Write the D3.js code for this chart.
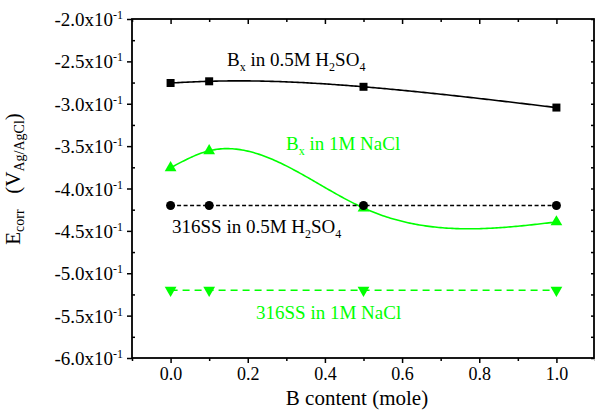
<!DOCTYPE html>
<html>
<head>
<meta charset="utf-8">
<script src="https://cdn.jsdelivr.net/npm/d3@7"></script>
<style>
  body { margin: 0; background: #fff; }
</style>
</head>
<body>
<div id="chart"></div>
<script>
// Data
const bContent = [0, 0.1, 0.5, 1.0];
const bxH2SO4 = [-0.2755, -0.2735, -0.280, -0.3045];
const bxNaCl = [-0.3755, -0.3555, -0.423, -0.4395];
const ss316H2SO4 = [-0.42, -0.42, -0.42, -0.42];
const ss316NaCl = [-0.52, -0.52, -0.52, -0.52];

const xMajorTicks = [0, 0.2, 0.4, 0.6, 0.8, 1.0];
const xMinorTicks = [-0.1, 0.1, 0.3, 0.5, 0.7, 0.9, 1.1];
const yMajorTicks = [-0.2, -0.25, -0.3, -0.35, -0.4, -0.45, -0.5, -0.55, -0.6];
const yMinorTicks = [-0.225, -0.275, -0.325, -0.375, -0.425, -0.475, -0.525, -0.575];

const FONT = "'Liberation Serif', 'Times New Roman', 'DejaVu Serif', serif";
const width = 595, height = 411;
const plot = { left: 132, right: 595, top: 19, bottom: 358 };

const svg = d3.select("#chart").append("svg")
    .attr("width", width)
    .attr("height", height)
    .style("font-family", FONT);

const x = d3.scaleLinear().domain([-0.1, 1.1]).range([plot.left, plot.right]);
const y = d3.scaleLinear().domain([-0.6, -0.2]).range([plot.bottom, plot.top]);

// Axes: bottom / left ticks outward, top / right ticks inward
function styleAxis(g) {
    g.attr("font-family", null);
    g.select(".domain").remove();
    g.selectAll("line").attr("stroke", "#000").attr("stroke-width", 1.5);
}

svg.append("g")
    .attr("transform", `translate(0,${plot.bottom})`)
    .call(d3.axisBottom(x).tickValues(xMajorTicks).tickSize(5).tickFormat(d3.format(".1f")))
    .call(styleAxis)
    .call(g => g.selectAll("text").attr("dy", null).attr("y", 22)
        .style("font-family", FONT).style("font-size", "18px").attr("fill", "#000"));

svg.append("g")
    .attr("transform", `translate(0,${plot.bottom})`)
    .call(d3.axisBottom(x).tickValues(xMinorTicks).tickSize(3).tickFormat(""))
    .call(styleAxis);

svg.append("g")
    .attr("transform", `translate(0,${plot.top})`)
    .call(d3.axisBottom(x).tickValues(xMajorTicks).tickSize(5).tickFormat(""))
    .call(styleAxis);

svg.append("g")
    .attr("transform", `translate(0,${plot.top})`)
    .call(d3.axisBottom(x).tickValues(xMinorTicks).tickSize(3).tickFormat(""))
    .call(styleAxis);

svg.append("g")
    .attr("transform", `translate(${plot.left},0)`)
    .call(d3.axisLeft(y).tickValues(yMajorTicks).tickSize(5).tickFormat(""))
    .call(styleAxis);

svg.append("g")
    .attr("transform", `translate(${plot.left},0)`)
    .call(d3.axisRight(y).tickValues(yMinorTicks).tickSize(3).tickFormat(""))
    .call(styleAxis);

svg.append("g")
    .attr("transform", `translate(${plot.right - 1},0)`)
    .call(d3.axisLeft(y).tickValues(yMajorTicks.concat(yMinorTicks)).tickSize(3).tickFormat(""))
    .call(styleAxis);

// Y tick labels like -2.0x10^-1
const yLabels = svg.append("g");
yMajorTicks.forEach(function (v) {
    const t = yLabels.append("text")
        .attr("x", 123)
        .attr("y", y(v) + 7)
        .attr("text-anchor", "end")
        .style("font-family", FONT)
        .style("font-size", "19px");
    t.append("tspan").text((v * 10).toFixed(1) + "x10");
    t.append("tspan").attr("dy", -7).style("font-size", "12px").text("-1");
});

// Frame
svg.append("rect")
    .attr("x", plot.left)
    .attr("y", plot.top)
    .attr("width", plot.right - plot.left - 1)
    .attr("height", plot.bottom - plot.top)
    .attr("fill", "none")
    .attr("stroke", "#000")
    .attr("stroke-width", 1.8);

// Natural cubic spline in x (what the original plotting program draws)
function naturalSpline(xs, ys) {
    const n = xs.length;
    const h = d3.range(n - 1).map(i => xs[i + 1] - xs[i]);
    const m = new Array(n).fill(0);
    // tridiagonal system for second derivatives, m[0] = m[n-1] = 0
    const a = [], b = [], c = [], r = [];
    for (let i = 1; i < n - 1; i++) {
        a.push(h[i - 1]);
        b.push(2 * (h[i - 1] + h[i]));
        c.push(h[i]);
        r.push(6 * ((ys[i + 1] - ys[i]) / h[i] - (ys[i] - ys[i - 1]) / h[i - 1]));
    }
    const k = b.length;
    for (let i = 1; i < k; i++) {
        const w = a[i] / b[i - 1];
        b[i] -= w * c[i - 1];
        r[i] -= w * r[i - 1];
    }
    for (let i = k - 1; i >= 0; i--) {
        m[i + 1] = (r[i] - (i < k - 1 ? c[i] * m[i + 2] : 0)) / b[i];
    }
    return function (t) {
        let i = Math.min(n - 2, Math.max(0, d3.bisectRight(xs, t) - 1));
        const dx = xs[i + 1] - xs[i];
        const A = (xs[i + 1] - t) / dx, B = (t - xs[i]) / dx;
        return A * ys[i] + B * ys[i + 1] +
            ((A * A * A - A) * m[i] + (B * B * B - B) * m[i + 1]) * dx * dx / 6;
    };
}

// Series
const series = [
    { values: bxH2SO4, color: "#000", dash: null, smooth: true, symbol: d3.symbolSquare, size: 64, rot: 0 },
    { values: bxNaCl, color: "#00ff00", dash: null, smooth: true, symbol: d3.symbolTriangle, size: 60, rot: 0 },
    { values: ss316H2SO4, color: "#000", dash: "4,2.5", smooth: false, symbol: d3.symbolCircle, size: 64, rot: 0 },
    { values: ss316NaCl, color: "#00ff00", dash: "7,5", smooth: false, symbol: d3.symbolTriangle, size: 60, rot: 180 }
];

const line = d3.line()
    .x(d => x(d[0]))
    .y(d => y(d[1]));

series.forEach(function (s) {
    const pts = bContent.map((b, i) => [b, s.values[i]]);
    let curvePts = pts;
    if (s.smooth) {
        const f = naturalSpline(bContent, s.values);
        const [x0, x1] = d3.extent(bContent);
        curvePts = d3.range(0, 201).map(j => {
            const t = x0 + (x1 - x0) * j / 200;
            return [t, f(t)];
        });
    }

    svg.append("path")
        .datum(curvePts)
        .attr("d", line)
        .attr("fill", "none")
        .attr("stroke", s.color)
        .attr("stroke-width", 1.6)
        .attr("stroke-dasharray", s.dash);

    svg.selectAll(null)
        .data(pts)
        .enter()
        .append("path")
        .attr("d", d3.symbol().type(s.symbol).size(s.size))
        .attr("transform", d => `translate(${x(d[0])},${y(d[1])}) rotate(${s.rot})`)
        .attr("fill", s.color);
});

// Annotations
function label(xPos, yPos, color, parts) {
    const t = svg.append("text")
        .attr("x", xPos)
        .attr("y", yPos)
        .attr("fill", color)
        .style("font-family", FONT)
        .style("font-size", "19px");
    parts.forEach(function (p) {
        if (p.sub) {
            t.append("tspan").attr("dy", 5).style("font-size", "12px").text(p.sub);
        } else {
            t.append("tspan").attr("dy", p.after ? -5 : 0).text(p.text);
        }
    });
}

label(227, 66, "#000", [{ text: "B" }, { sub: "x" }, { text: " in 0.5M H", after: true }, { sub: "2" }, { text: "SO", after: true }, { sub: "4" }]);
label(286, 150, "#00ff00", [{ text: "B" }, { sub: "x" }, { text: " in 1M NaCl", after: true }]);
label(172, 233, "#000", [{ text: "316SS in 0.5M H" }, { sub: "2" }, { text: "SO", after: true }, { sub: "4" }]);
label(256, 319, "#00ff00", [{ text: "316SS in 1M NaCl" }]);

// Axis titles
svg.append("text")
    .attr("x", 357)
    .attr("y", 405)
    .attr("text-anchor", "middle")
    .style("font-family", FONT)
    .style("font-size", "21px")
    .text("B content (mole)");

const yTitle = svg.append("text")
    .attr("transform", "translate(20,179) rotate(-90)")
    .attr("text-anchor", "middle")
    .style("font-family", FONT)
    .style("font-size", "21px");
yTitle.append("tspan").text("E");
yTitle.append("tspan").attr("dy", 4).style("font-size", "14px").text("corr");
yTitle.append("tspan").attr("dy", -4).text("\u00a0\u00a0\u00a0(V");
yTitle.append("tspan").attr("dy", 4).style("font-size", "14px").text("Ag/AgCl");
yTitle.append("tspan").attr("dy", -4).text(")");
</script>
</body>
</html>
